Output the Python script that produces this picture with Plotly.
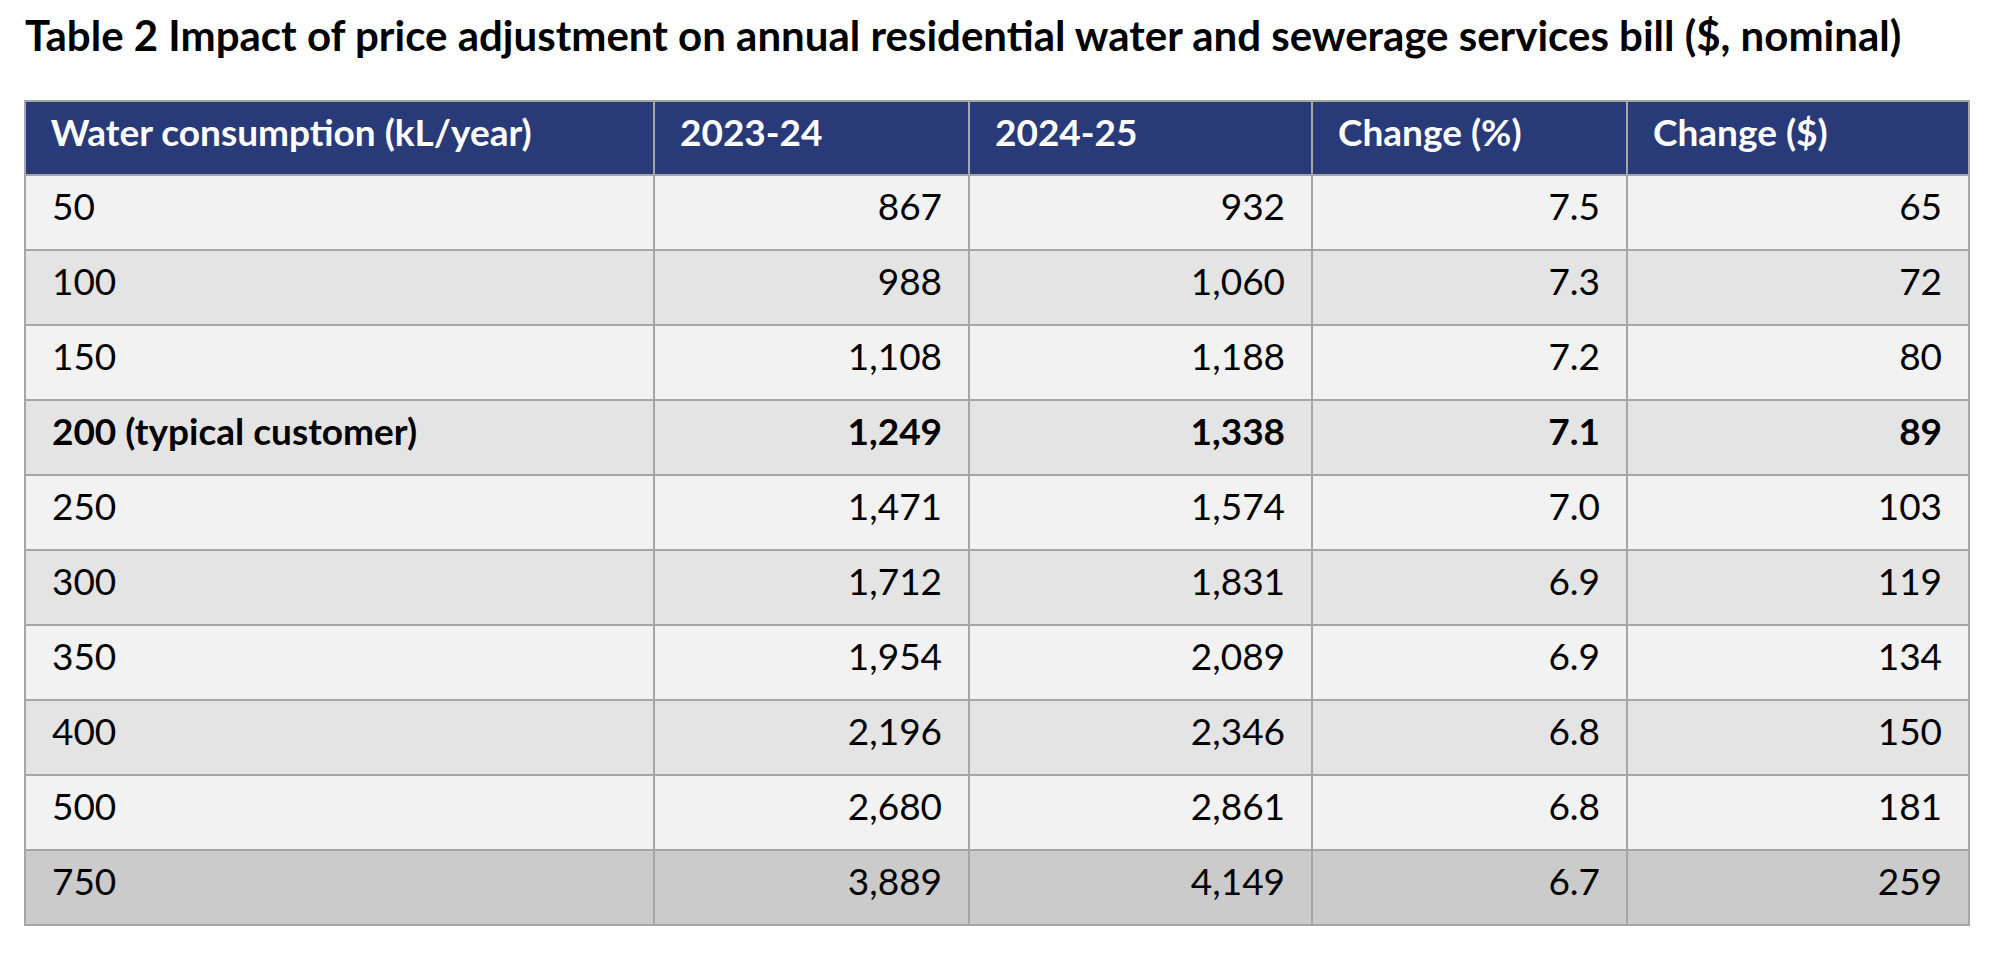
import plotly.graph_objects as go

# Table 2 - annual residential water & sewerage bill
title = "Table 2 Impact of price adjustment on annual residential water and sewerage services bill ($, nominal)"

headers = ["Water consumption (kL/year)", "2023-24", "2024-25", "Change (%)", "Change ($)"]
consumption = ["50", "100", "150", "200 (typical customer)", "250", "300", "350", "400", "500", "750"]
bill_2324 = [867, 988, 1108, 1249, 1471, 1712, 1954, 2196, 2680, 3889]
bill_2425 = [932, 1060, 1188, 1338, 1574, 1831, 2089, 2346, 2861, 4149]
change_pct = [7.5, 7.3, 7.2, 7.1, 7.0, 6.9, 6.9, 6.8, 6.8, 6.7]
change_dollar = [65, 72, 80, 89, 103, 119, 134, 150, 181, 259]
typical_row = 3

pad = "\u00a0\u00a0"
# plotly tables put text at the top of the cell -> push it down a bit
# (the trailing <br> stops plotly from word-wrapping the span tag)
shift_cell = "<span style='baseline-shift:-10px'>{}</span><br>"
shift_head = "<span style='baseline-shift:-9px'>{}</span><br>"

def cell(txt, i, left=False):
    if i == typical_row:
        txt = "<b>" + txt + "</b>"
    txt = pad + txt if left else txt + pad
    return shift_cell.format(txt)

col0 = [cell(c, i, left=True) for i, c in enumerate(consumption)]
col1 = [cell(f"{v:,}", i) for i, v in enumerate(bill_2324)]
col2 = [cell(f"{v:,}", i) for i, v in enumerate(bill_2425)]
col3 = [cell(f"{v:.1f}", i) for i, v in enumerate(change_pct)]
col4 = [cell(f"{v:,}", i) for i, v in enumerate(change_dollar)]

row_fill = ["#F2F2F2" if i % 2 == 0 else "#E4E4E4" for i in range(len(consumption))]
row_fill[-1] = "#CBCBCB"

W, H = 1994, 954

fig = go.Figure(go.Table(
    domain=dict(x=[17 / W, 1961 / W], y=[0, 1 - 93 / H]),
    columnwidth=[629, 315, 343, 315, 342],
    header=dict(
        values=[shift_head.format("<b>" + pad + h + "</b>") for h in headers],
        fill_color="#293A79",
        line=dict(color="#A6A6A6", width=2),
        font=dict(family="Lato", size=37, color="white"),
        align="left",
        height=74,
    ),
    cells=dict(
        values=[col0, col1, col2, col3, col4],
        fill_color=[row_fill] * 5,
        line=dict(color="#A6A6A6", width=2),
        font=dict(family="Lato", size=37, color="black"),
        align=["left", "right", "right", "right", "right"],
        height=75,
    ),
))

fig.update_layout(
    width=W, height=H,
    margin=dict(l=0, r=0, t=0, b=0),
    paper_bgcolor="white",
    title=dict(
        text="<b>" + title + "</b>",
        x=17 / W, xanchor="left",
        y=1 - 28 / H, yanchor="middle",
        font=dict(family="Lato", size=42, color="black"),
    ),
)

fig.write_html("out.html")
